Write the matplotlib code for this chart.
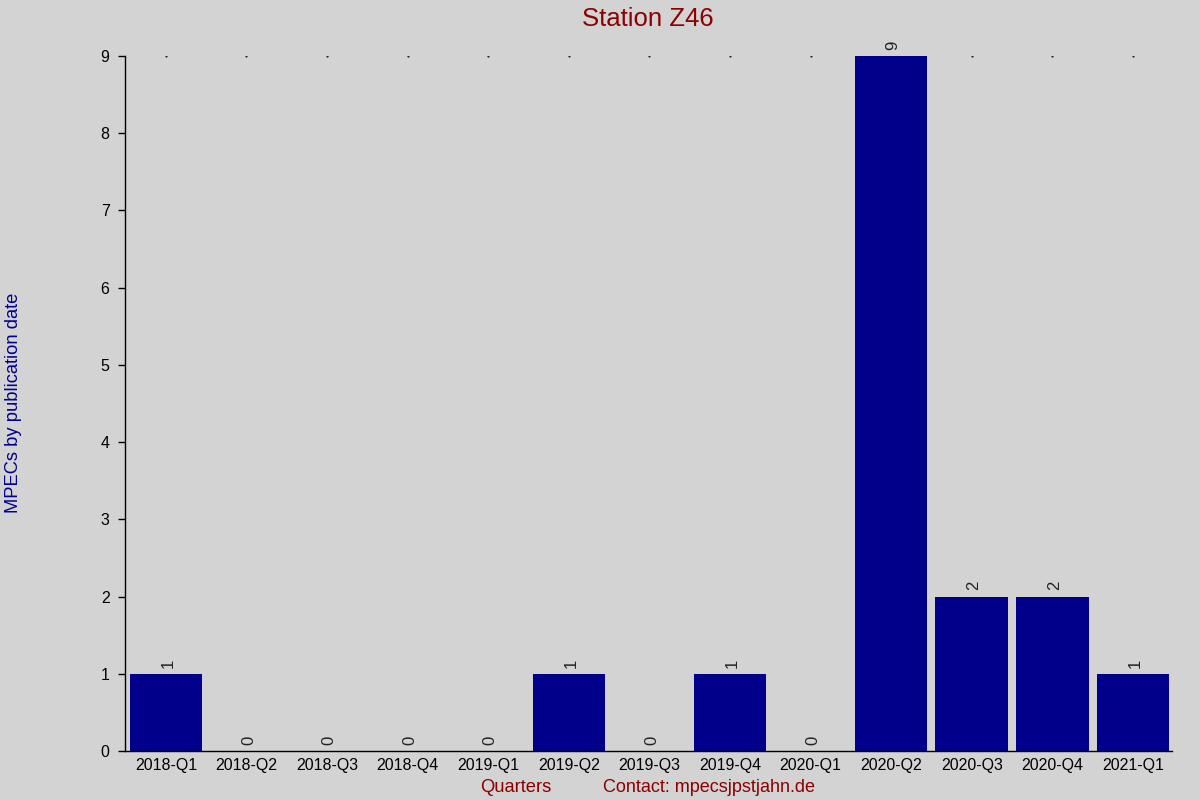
import matplotlib
matplotlib.use("Agg")
import matplotlib.pyplot as plt
import numpy as np

quarters = ["2018-Q1", "2018-Q2", "2018-Q3", "2018-Q4", "2019-Q1", "2019-Q2", "2019-Q3",
            "2019-Q4", "2020-Q1", "2020-Q2", "2020-Q3", "2020-Q4", "2021-Q1"]
mpecs = [1, 0, 0, 0, 0, 1, 0, 1, 0, 9, 2, 2, 1]
y_ticks = [0, 1, 2, 3, 4, 5, 6, 7, 8, 9]

bg = "#d3d3d3"
plt.rcParams["font.family"] = ["Liberation Sans", "DejaVu Sans"]

fig = plt.figure(figsize=(12, 8), dpi=100, facecolor=bg)
ax = fig.add_axes([0.104, 0.06125, 0.873, 0.86875])
ax.set_facecolor(bg)

x = np.arange(len(quarters))
ax.bar(x, mpecs, width=0.9, color="#00008b", zorder=2)

# small dots along the top of the plot
ax.plot(x, [max(y_ticks)] * len(x), ".", color="black", markersize=1, zorder=1)

for xi, v in zip(x, mpecs):
    ax.annotate(str(v), (xi, v), xytext=(1.5, 4.5), textcoords="offset points",
                rotation=90, ha="center", va="bottom", fontsize=12, color="#222222")

ax.set_xlim(-0.51, len(quarters) - 0.51)
ax.set_ylim(0, max(y_ticks))
ax.set_xticks(x)
ax.set_xticklabels(quarters)
ax.set_yticks(y_ticks)
ax.tick_params(axis="x", length=0, pad=5, labelsize=11.5)
ax.tick_params(axis="y", length=5, width=1, pad=6, labelsize=11.5)
for s in ["top", "right"]:
    ax.spines[s].set_visible(False)
for s in ["left", "bottom"]:
    ax.spines[s].set_linewidth(1)

fig.text(0.54, 0.976, "Station Z46", ha="center", va="center", fontsize=18.5, color="#8b0000")
fig.text(0.0115, 0.496, "MPECs by publication date", rotation=90, ha="center", va="center",
         fontsize=13.2, color="#00008b")
fig.text(0.43, 0.0155, "Quarters", ha="center", va="center", fontsize=13.2, color="#8b0000")
fig.text(0.5025, 0.0155, "Contact: mpecsjpstjahn.de", ha="left", va="center", fontsize=13.0,
         color="#8b0000")

fig.savefig("out.png", dpi=100, facecolor=bg)
